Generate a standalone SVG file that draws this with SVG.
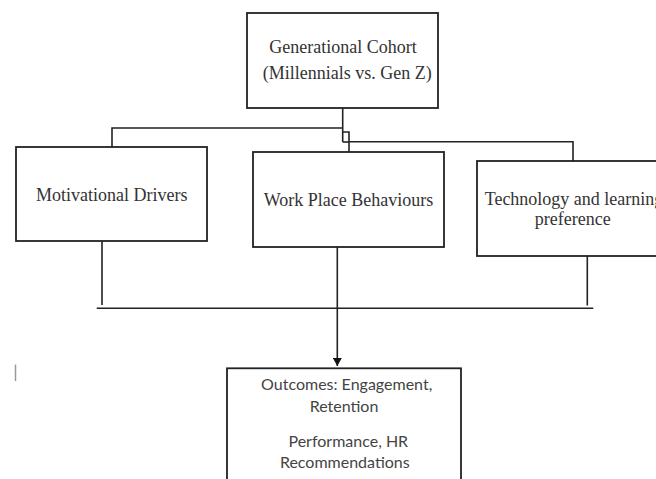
<svg xmlns="http://www.w3.org/2000/svg" width="656" height="479" viewBox="0 0 656 479">
<defs>
<style>
.box{fill:#fff;stroke:#222;stroke-width:1.8}
.ln{fill:none;stroke:#222;stroke-width:1.6}
.t{font-family:"Liberation Serif","Times New Roman",serif;font-size:18px;fill:#333}
.s{font-family:Lato,"Liberation Sans",sans-serif;font-size:16px;fill:#444}
</style>
<marker id="ah" viewBox="0 0 8 9" refX="8" refY="4.5" markerWidth="8" markerHeight="9" markerUnits="userSpaceOnUse" orient="auto">
<path d="M0,0 L8,4.5 L0,9 Z" fill="#111"/>
</marker>
</defs>
<rect width="656" height="479" fill="#fff"/>
<g id="connectors">
<path class="ln" d="M342.7,107.5 V142 M342.7,128 H112 V147 M342.7,132 H349 V152 M349,141.7 H573 V161"/>
<path class="ln" d="M342.7,142 H349"/>
<path class="ln" d="M102,241 V305 M587.3,250 V305.5 M96.7,308.3 H593.3"/>
<path class="ln" d="M337.3,247 V366" marker-end="url(#ah)"/>
</g>
<g id="top">
<rect class="box" x="247" y="13" width="191" height="95"/>
<text class="t" x="269.3" y="53.3">Generational Cohort</text>
<text class="t" x="262.7" y="79.3">(Millennials vs. Gen Z)</text>
</g>
<g id="motivational">
<rect class="box" x="16" y="147" width="191" height="94"/>
<text class="t" x="111.8" y="200.7" text-anchor="middle">Motivational Drivers</text>
</g>
<g id="workplace">
<rect class="box" x="253" y="152" width="191" height="95"/>
<text class="t" x="348.5" y="205.7" text-anchor="middle">Work Place Behaviours</text>
</g>
<g id="technology">
<rect class="box" x="477" y="161" width="200" height="95"/>
<text class="t" x="574" y="205" text-anchor="middle">Technology and learning</text>
<text class="t" x="572.8" y="225" text-anchor="middle">preference</text>
</g>
<g id="outcomes">
<rect class="box" x="227" y="368.3" width="234" height="130"/>
<text class="s" x="346.7" y="390" text-anchor="middle">Outcomes: Engagement,</text>
<text class="s" x="344" y="411.7" text-anchor="middle">Retention</text>
<text class="s" x="348.3" y="446.7" text-anchor="middle">Performance, HR</text>
<text class="s" x="344.8" y="468.3" text-anchor="middle">Recommendations</text>
</g>
<line x1="15.5" y1="364.5" x2="15.5" y2="381" stroke="#999" stroke-width="1.5"/>
</svg>
